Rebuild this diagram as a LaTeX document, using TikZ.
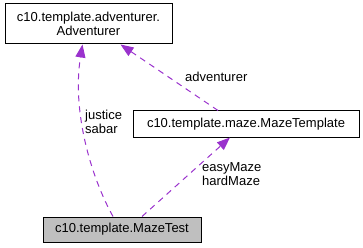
\documentclass[tikz,border=0pt]{standalone}
\usepackage{fontspec}
\setmainfont{Liberation Sans}
\usetikzlibrary{positioning,arrows.meta}

\definecolor{assoc}{HTML}{9A32CD}
\definecolor{focus}{HTML}{BFBFBF}

\begin{document}
\begin{tikzpicture}[x=1pt, y=-1pt,
    font=\fontsize{13}{14}\selectfont,
    class/.style={rectangle, draw, line width=1pt, inner sep=0pt, align=center},
    uses/.style={assoc, line width=1pt, dash pattern=on 6pt off 5pt,
      -{Triangle[length=13pt, width=10pt]}},
    role/.style={inner sep=0pt, align=left, anchor=west}]
      \useasboundingbox (0, 0) rectangle (363, 248);

      \node[class, minimum width = 167pt, minimum height = 40pt] (adventurer) at (88.5, 24) {c10.template.adventurer.\\Adventurer};
      \node[class, minimum width = 226pt, minimum height = 26pt] (template) at (246, 124) {c10.template.maze.MazeTemplate};
      \node[class, fill = focus, minimum width = 158pt, minimum height = 25pt] (test) at (122, 229.5) {c10.template.MazeTest};

      % nombres de los campos
      \node[role] (advLbl) at (185, 77) {adventurer};
      \node[role] (heroLbl) at (85, 122) {justice\\sabar};
      \node[role] (mazeLbl) at (202, 174) {easyMaze\\hardMaze};

      \draw[uses] ([xshift=-28pt]template.north) -- ([xshift=32pt]adventurer.south);
      \draw[uses] ([xshift=-9pt]test.north) .. controls (90, 175) and (72, 110) .. ([xshift=-6pt]adventurer.south);
      \draw[uses] ([xshift=20pt]test.north) -- ([xshift=-16pt]template.south);
    \end{tikzpicture}
\end{document}
